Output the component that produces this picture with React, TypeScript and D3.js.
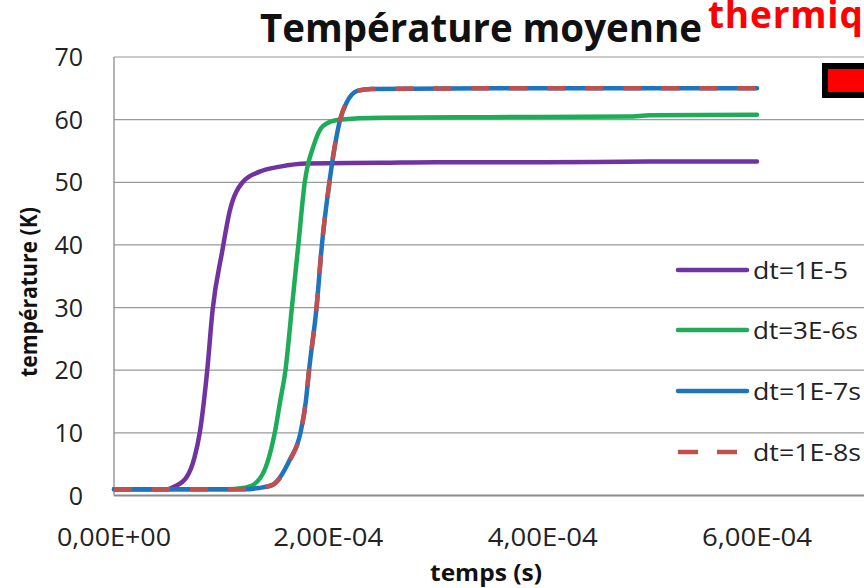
import React from "react";
import * as d3 from "d3";

// ---- data (time in units of 1e-5 s, temperature in K) ----
const seriesNames = ["dt=1E-5", "dt=3E-6s", "dt=1E-7s", "dt=1E-8s"];

const timePurple = [0, 5, 5.6, 6.8, 7.5, 8.0, 8.7, 9.2, 10.1, 10.8, 12.0, 13.6, 15.5, 18, 25, 30, 40, 50, 60];
const tempPurple = [1, 1, 1.4, 3, 6, 10, 20, 29.6, 39, 45.4, 50, 51.7, 52.5, 53, 53.1, 53.2, 53.2, 53.3, 53.3];

const timeGreen = [0, 10.5, 12, 13, 14.3, 15, 15.5, 16, 16.6, 17.2, 17.8, 18.6, 19.5, 21, 25, 35, 48, 50, 60];
const tempGreen = [1, 1, 1.2, 1.7, 5.2, 10, 15, 20, 30, 40, 50, 55.7, 59, 60, 60.3, 60.4, 60.5, 60.7, 60.8];

const timeBlue = [0, 12, 13.5, 14.8, 16.4, 17.4, 17.9, 18.2, 18.9, 19.4, 20.1, 20.6, 21.1, 21.7, 22.7, 24, 35, 60];
const tempBlue = [1, 1, 1.2, 1.7, 5.7, 10, 15, 20, 30, 40, 50, 55.7, 60, 62.7, 64.6, 64.9, 65, 65];

const timeRed = [0, 12, 13.5, 14.8, 16.4, 17.4, 17.9, 18.2, 18.9, 19.4, 20.1, 20.6, 21.1, 21.7, 22.7, 24, 35, 60];
const tempRed = [1, 1, 1.2, 1.7, 5.6, 10, 15, 20, 30, 40, 50, 55.8, 60, 62.8, 64.6, 64.9, 65, 65];

const xTickValues = [0, 2e-4, 4e-4, 6e-4];
const xTickLabels = ["0,00E+00", "2,00E-04", "4,00E-04", "6,00E-04"];
const yTickValues = [0, 10, 20, 30, 40, 50, 60, 70];

const title = "Température moyenne";
const sideTitle = "thermique";
const xTitle = "temps (s)";
const yTitle = "température (K)";

// ---- styles ----
const colors = ["#7033A0", "#1EAC58", "#1F74BE", "#C0504D"];
const FONT = "'Open Sans', 'Noto Sans', sans-serif";

export default function App() {
  const W = 864;
  const H = 588;
  const x = d3.scaleLinear().domain([0, 6e-4]).range([114, 757]);
  const y = d3.scaleLinear().domain([0, 70]).range([495.5, 57]);
  const plotRight = 864;

  const mk = (ts: number[], vs: number[]) => ts.map((t, i) => ({ t: t * 1e-5, v: vs[i] }));
  const series = [
    mk(timePurple, tempPurple),
    mk(timeGreen, tempGreen),
    mk(timeBlue, tempBlue),
    mk(timeRed, tempRed),
  ];
  const line = d3
    .line<{ t: number; v: number }>()
    .x((d) => x(d.t))
    .y((d) => y(d.v))
    .curve(d3.curveMonotoneX);

  const legendY = [270, 330, 391, 452];
  const legendTextLen = [95, 105, 108, 108];

  return (
    <svg
      width={W}
      height={H}
      style={{ position: "absolute", left: 0, top: 0, background: "#fff" }}
      fontFamily={FONT}
    >
      <rect x={0} y={0} width={W} height={H} fill="#fff" />
      {/* gridlines */}
      {yTickValues.map((v) =>
        v === 0 ? null : (
          <line key={v} x1={x(0)} x2={plotRight} y1={y(v)} y2={y(v)} stroke="#9a9a9a" strokeWidth={1.2} />
        )
      )}
      {/* axes */}
      <line x1={x(0)} x2={x(0)} y1={y(70)} y2={y(0)} stroke="#8c8c8c" strokeWidth={1.3} />
      <line x1={x(0)} x2={plotRight} y1={y(0)} y2={y(0)} stroke="#8c8c8c" strokeWidth={1.8} />

      {/* y tick labels */}
      {yTickValues.map((v) => (
        <text key={v} x={83} y={y(v) + 9} textAnchor="end" fontSize={25} fill="#222">
          {v}
        </text>
      ))}
      {/* x tick labels */}
      {xTickValues.map((v, i) => (
        <text
          key={v}
          x={x(v)}
          y={546}
          textAnchor="middle"
          fontSize={25}
          fill="#222"
          textLength={i === 0 ? 114 : 110}
          lengthAdjust="spacingAndGlyphs"
        >
          {xTickLabels[i]}
        </text>
      ))}

      {/* series */}
      {series.map((s, i) => (
        <path
          key={i}
          d={line(s) || ""}
          fill="none"
          stroke={colors[i]}
          strokeWidth={4.5}
          strokeLinecap={i === 3 ? "butt" : "round"}
          strokeLinejoin="round"
          strokeDasharray={i === 3 ? "18 20" : undefined}
        />
      ))}

      {/* legend */}
      {seriesNames.map((name, i) => (
        <g key={name}>
          <line
            x1={678}
            x2={747}
            y1={legendY[i]}
            y2={legendY[i]}
            stroke={colors[i]}
            strokeWidth={4.5}
            strokeLinecap={i === 3 ? "butt" : "round"}
            strokeDasharray={i === 3 ? "20 19" : undefined}
          />
          <text
            x={753}
            y={legendY[i] + 8.5}
            fontSize={23}
            fill="#222"
            textLength={legendTextLen[i]}
            lengthAdjust="spacingAndGlyphs"
          >
            {name}
          </text>
        </g>
      ))}

      {/* titles */}
      <text
        x={260}
        y={42}
        fontSize={39}
        fontWeight="bold"
        fill="#111"
        textLength={442}
        lengthAdjust="spacingAndGlyphs"
      >
        {title}
      </text>
      <text x={708} y={28} fontSize={37} fontWeight="bold" fill="#ff0000" letterSpacing={0.8}>
        {sideTitle}
      </text>
      <rect x={825} y={66} width={60} height={29} fill="#ff0000" stroke="#000" strokeWidth={6} />

      <text
        x={486}
        y={581}
        textAnchor="middle"
        fontSize={23}
        fontWeight="bold"
        fill="#111"
        textLength={112}
        lengthAdjust="spacingAndGlyphs"
      >
        {xTitle}
      </text>
      <text
        transform={`translate(37,292) rotate(-90)`}
        textAnchor="middle"
        fontSize={23}
        fontWeight="bold"
        fill="#111"
        textLength={170}
        lengthAdjust="spacingAndGlyphs"
      >
        {yTitle}
      </text>
    </svg>
  );
}
